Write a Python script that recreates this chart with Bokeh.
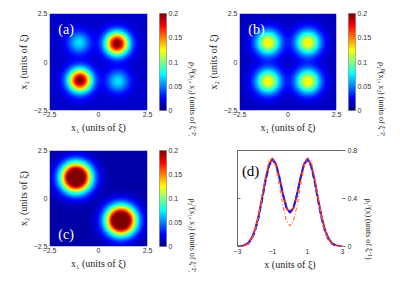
import numpy as np
from bokeh.plotting import figure
from bokeh.models import LinearColorMapper, FixedTicker, Range1d, Label, LinearAxis
from bokeh.layouts import column, row
from bokeh.embed import file_html
from bokeh.resources import INLINE

# ---------------- data ----------------
a_cx = [0.95, -0.95, -1.0, 1.0]
a_cy = [0.95, -0.95, 1.0, -1.0]
a_amp = [0.19, 0.19, 0.055, 0.055]
a_sig = [0.42, 0.42, 0.40, 0.40]
a_bg = 0.015
b_cx = [-1.03, 1.03, -1.03, 1.03]
b_cy = [1.0, 1.0, -1.0, -1.0]
b_amp = [0.115, 0.115, 0.115, 0.115]
b_sig = [0.45, 0.45, 0.45, 0.45]
b_bg = 0.013
c_cx = [-1.15, 1.15]
c_cy = [1.1, -1.15]
c_amp = [0.27, 0.27]
c_sig = [0.52, 0.52]
c_bg = 0.008

cbar_low, cbar_high = 0.0, 0.2
cbar_ticks = [0, 0.05, 0.1, 0.15, 0.2]
heat_ticks = [-2.5, 0, 2.5]

d_x = [-3.0, -2.8, -2.6, -2.4, -2.2, -2.0, -1.8, -1.6, -1.4, -1.2, -1.0, -0.8, -0.6, -0.4, -0.2, 0.0,
       0.2, 0.4, 0.6, 0.8, 1.0, 1.2, 1.4, 1.6, 1.8, 2.0, 2.2, 2.4, 2.6, 2.8, 3.0]
d_red = [0.001, 0.003, 0.011, 0.029, 0.068, 0.139, 0.253, 0.403, 0.561, 0.683, 0.731, 0.687, 0.571, 0.432, 0.321, 0.279,
         0.321, 0.432, 0.571, 0.687, 0.731, 0.683, 0.561, 0.403, 0.253, 0.139, 0.068, 0.029, 0.011, 0.003, 0.001]
d_blue = [0.0, 0.002, 0.008, 0.023, 0.058, 0.126, 0.237, 0.385, 0.545, 0.672, 0.722, 0.682, 0.570, 0.435, 0.325, 0.285,
          0.325, 0.435, 0.570, 0.682, 0.722, 0.672, 0.545, 0.385, 0.237, 0.126, 0.058, 0.023, 0.008, 0.002, 0.0]
d_orange = [0.0, 0.002, 0.007, 0.021, 0.056, 0.127, 0.247, 0.412, 0.586, 0.713, 0.741, 0.659, 0.504, 0.338, 0.215, 0.171,
            0.215, 0.338, 0.504, 0.659, 0.741, 0.713, 0.586, 0.412, 0.247, 0.127, 0.056, 0.021, 0.007, 0.002, 0.0]
d_xticks = [-3, -1, 1, 3]
d_yticks = [0, 0.4, 0.8]


def jet(n=256):
    t = np.linspace(0, 1, n)
    r = np.clip(1.5 - np.abs(4 * t - 3), 0, 1)
    g = np.clip(1.5 - np.abs(4 * t - 2), 0, 1)
    b = np.clip(1.5 - np.abs(4 * t - 1), 0, 1)
    return ["#%02x%02x%02x" % (int(rr * 255), int(gg * 255), int(bb * 255)) for rr, gg, bb in zip(r, g, b)]


JET = jet()
SERIF = "Liberation Serif"
SANS = "Liberation Sans"
TICK_COL = "#333333"
FH = 97


def field(cx, cy, amp, sig, bg):
    xs = np.linspace(-2.5, 2.5, 220)
    X, Y = np.meshgrid(xs, xs)
    F = np.full_like(X, bg)
    for x0, y0, A, s in zip(cx, cy, amp, sig):
        F += A * np.exp(-((X - x0) ** 2 + (Y - y0) ** 2) / (2 * s * s))
    return F


def style_axis(ax):
    ax.axis_line_color = None
    ax.major_tick_line_color = None
    ax.minor_tick_line_color = None
    ax.major_tick_in = 0
    ax.major_tick_out = 0
    ax.major_label_text_font = SANS
    ax.major_label_text_font_size = "7px"
    ax.major_label_text_color = TICK_COL
    ax.major_label_standoff = 2
    ax.axis_label_text_font = SERIF
    ax.axis_label_text_font_style = "normal"
    ax.axis_label_text_font_size = "10px"
    ax.axis_label_text_color = "#222222"
    ax.axis_label_standoff = 2


def heat_panel(F, mapper, tag, fw, top, left, bottom):
    p = figure(width=left + fw + 12, height=top + FH + bottom,
               x_range=Range1d(-2.5, 2.5), y_range=Range1d(-2.5, 2.5),
               output_backend="svg", toolbar_location=None,
               min_border_left=left, min_border_right=12, min_border_top=top,
               min_border_bottom=bottom)
    p.grid.visible = False
    p.outline_line_color = None
    p.image(image=[F], x=-2.5, y=-2.5, dw=5, dh=5, color_mapper=mapper)
    for ax in (p.xaxis[0], p.yaxis[0]):
        ax.ticker = FixedTicker(ticks=heat_ticks)
        ax.major_label_overrides = {0: "0"}
        style_axis(ax)
    p.xaxis[0].major_label_standoff = 1
    p.xaxis.axis_label = "x₁ (units of ξ)"
    p.yaxis.axis_label = "x₂ (units of ξ)"
    if tag == "(c)":
        p.add_layout(Label(x=-2.05, y=-1.5, text=tag, text_color="white", text_font=SERIF,
                           text_font_size="14px", text_baseline="top"))
    else:
        p.add_layout(Label(x=-2.05, y=2.05, text=tag, text_color="white", text_font=SERIF,
                           text_font_size="14px", text_baseline="top"))
    return p


def cbar_panel(mapper, label, top, right, standoff, bottom):
    p = figure(width=11 + right, height=top + FH + bottom,
               x_range=Range1d(0, 1), y_range=Range1d(cbar_low, cbar_high),
               y_axis_location="right", x_axis_location=None,
               output_backend="svg", toolbar_location=None,
               min_border_left=0, min_border_right=right, min_border_top=top,
               min_border_bottom=bottom)
    p.grid.visible = False
    p.outline_line_color = "#555555"
    p.outline_line_width = 0.6
    grad = np.linspace(cbar_low, cbar_high, 256).reshape(-1, 1)
    p.image(image=[grad], x=0, y=cbar_low, dw=1, dh=cbar_high - cbar_low, color_mapper=mapper)
    ax = p.yaxis[0]
    ax.ticker = FixedTicker(ticks=cbar_ticks)
    ax.major_label_overrides = {0: "0", 0.05: "0.05", 0.1: "0.1", 0.15: "0.15", 0.2: "0.2"}
    style_axis(ax)
    ax.axis_label = label
    ax.axis_label_text_font_size = "8px"
    ax.axis_label_standoff = standoff
    if "axis_label_orientation" in ax.properties():
        ax.axis_label_orientation = -np.pi / 2
    return p


mapper = LinearColorMapper(palette=JET, low=cbar_low, high=cbar_high)

# row 1: height 13 + 97 + 26 = 136 ; row 2: 136  -> total 272 (+16 page margin = 288)
pa = heat_panel(field(a_cx, a_cy, a_amp, a_sig, a_bg), mapper, "(a)", 98, 13, 49, 26)
ca = cbar_panel(mapper, "ρ₂ᴮ(x₁, x₂) (units of ξ⁻²)", 13, 34, 7, 26)
pb = heat_panel(field(b_cx, b_cy, b_amp, b_sig, b_bg), mapper, "(b)", 97, 13, 35, 26)
cbb = cbar_panel(mapper, "ρ₂ᴮ(x₁, x₂) (units of ξ⁻²)", 13, 34, 7, 26)
pc = heat_panel(field(c_cx, c_cy, c_amp, c_sig, c_bg), mapper, "(c)", 98, 13, 49, 26)
cc = cbar_panel(mapper, "ρ₂ᵇ(x₁, x₂) (units of ξ⁻²)", 13, 34, 7, 26)

# ---------------- panel (d) ----------------
pd = figure(width=188, height=136, x_range=Range1d(-3, 3), y_range=Range1d(0, 0.8),
            output_backend="svg", toolbar_location=None,
            min_border_left=33, min_border_right=50, min_border_top=14, min_border_bottom=24)
pd.grid.visible = False
pd.outline_line_color = None
pd.line(d_x, d_red, color="#e8131b", line_width=2)
pd.line(d_x, d_blue, color="#2020f0", line_width=2, line_dash="6 3")
pd.line(d_x, d_orange, color="#ff6a3a", line_width=1.1, line_dash="4 2 1 2")

xa = pd.xaxis[0]
xa.ticker = FixedTicker(ticks=d_xticks)
style_axis(xa)
xa.major_label_standoff = 2
xa.axis_label = "x (units of ξ)"

ya = pd.yaxis[0]
ya.ticker = FixedTicker(ticks=d_yticks)
ya.major_label_overrides = {0: "", 0.4: "", 0.8: ""}
ya.axis_line_color = "#666666"
ya.major_tick_line_color = "#666666"
ya.major_tick_in = 3
ya.major_tick_out = 0
ya.minor_tick_line_color = None

top = LinearAxis(ticker=FixedTicker(ticks=[]), axis_line_color="#666666",
                 major_tick_line_color=None, minor_tick_line_color=None, major_tick_in=0, major_tick_out=0)
pd.add_layout(top, "above")

ra = LinearAxis(ticker=FixedTicker(ticks=d_yticks), major_label_overrides={0: "0"},
                axis_line_color=None, major_tick_line_color="#666666", major_tick_in=0, major_tick_out=3,
                minor_tick_line_color=None, major_label_text_font=SANS, major_label_text_font_size="7px",
                major_label_text_color=TICK_COL, major_label_standoff=2,
                axis_label="ρ₁ᵇ(x) (units of ξ⁻¹)", axis_label_text_font=SERIF,
                axis_label_text_font_style="normal", axis_label_text_font_size="8px",
                axis_label_text_color="#222222", axis_label_standoff=8)
if "axis_label_orientation" in ra.properties():
    ra.axis_label_orientation = -np.pi / 2
pd.add_layout(ra, "right")
pd.add_layout(Label(x=-2.75, y=0.7, text="(d)", text_color="black", text_font=SERIF,
                    text_font_size="15px", text_baseline="top"))

layout = column(row(pa, ca, pb, cbb), row(pc, cc, pd))
open("out.html", "w").write(file_html(layout, INLINE))
